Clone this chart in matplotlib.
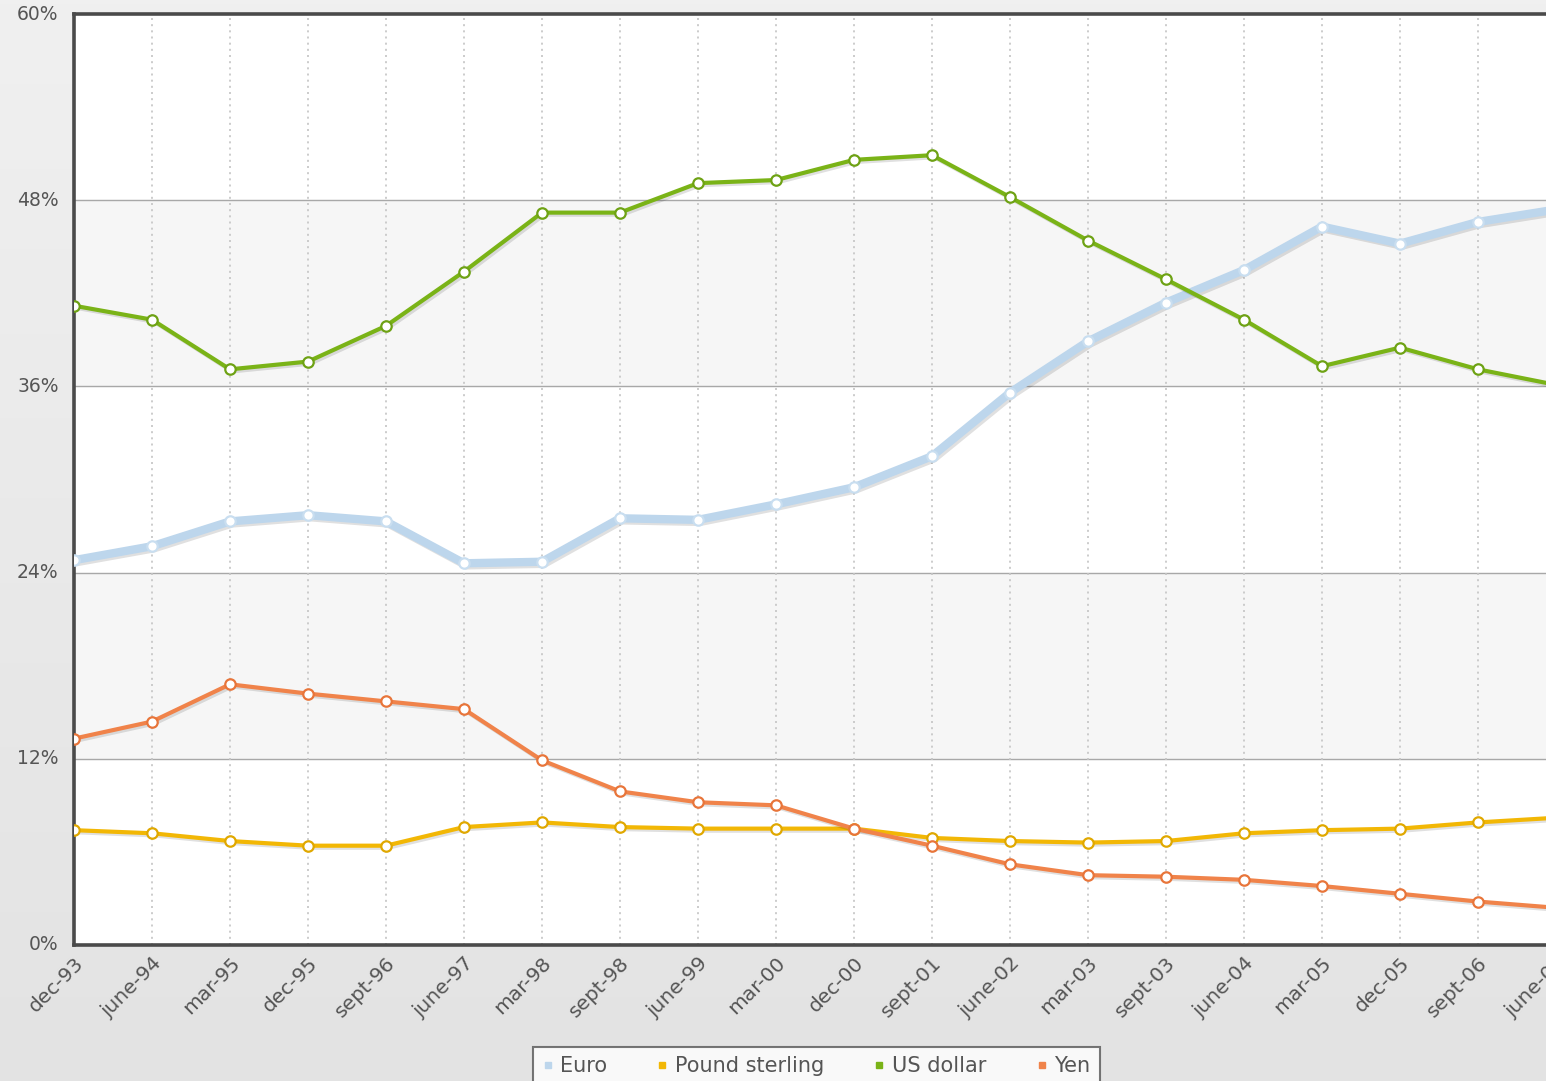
import numpy as np
import matplotlib.pyplot as plt
from matplotlib.lines import Line2D
import matplotlib.patheffects as pe

periods = ['dec-93', 'june-94', 'mar-95', 'dec-95', 'sept-96', 'june-97', 'mar-98',
           'sept-98', 'june-99', 'mar-00', 'dec-00', 'sept-01', 'june-02', 'mar-03',
           'sept-03', 'june-04', 'mar-05', 'dec-05', 'sept-06', 'june-07']

euro = [24.8, 25.7, 27.3, 27.7, 27.3, 24.6, 24.7, 27.5, 27.4, 28.4,
        29.5, 31.5, 35.6, 38.9, 41.4, 43.5, 46.3, 45.2, 46.6, 47.4]
pound = [7.4, 7.2, 6.7, 6.4, 6.4, 7.6, 7.9, 7.6, 7.5, 7.5,
         7.5, 6.9, 6.7, 6.6, 6.7, 7.2, 7.4, 7.5, 7.9, 8.2]
dollar = [41.2, 40.3, 37.1, 37.6, 39.9, 43.4, 47.2, 47.2, 49.1, 49.3,
          50.6, 50.9, 48.2, 45.4, 42.9, 40.3, 37.3, 38.5, 37.1, 36.1]
yen = [13.3, 14.4, 16.8, 16.2, 15.7, 15.2, 11.9, 9.9, 9.2, 9.0,
       7.5, 6.4, 5.2, 4.5, 4.4, 4.2, 3.8, 3.3, 2.8, 2.4]

series = [
    ('Euro', euro, '#bdd6ec', '#c9def0', 6),
    ('Pound sterling', pound, '#f2b705', '#e0a800', 3),
    ('US dollar', dollar, '#7ab317', '#6ea214', 3),
    ('Yen', yen, '#f0834a', '#e8753a', 3),
]

W, H = 1546, 1081
fig = plt.figure(figsize=(W / 100, H / 100), dpi=100)
fig.patch.set_facecolor('#e6e6e6')

# soft background gradient behind everything
bg = fig.add_axes([0, 0, 1, 1], zorder=-10)
grad = np.linspace(0, 1, 256).reshape(-1, 1)
bg.imshow(grad, cmap=plt.matplotlib.colors.LinearSegmentedColormap.from_list(
    'bg', ['#f0f0f0', '#e3e3e3']), aspect='auto', extent=[0, 1, 0, 1])
bg.axis('off')

left, right, top, bottom = 74, 1556, 14, 945
ax = fig.add_axes([left / W, 1 - bottom / H, (right - left) / W, (bottom - top) / H])
ax.set_facecolor('white')

x = np.arange(len(periods))
ax.set_xlim(0, len(periods) - 1)
ax.set_ylim(0, 60)

# alternating horizontal bands
for lo in (12, 36):
    ax.axhspan(lo, lo + 12, color='#f6f6f6', zorder=0)
for yv in (12, 24, 36, 48):
    ax.axhline(yv, color='#a8a8a8', lw=1.0, zorder=1)
for xv in x[1:]:
    ax.axvline(xv, color='#c4c4c4', lw=1.2, ls=(0, (1.2, 2.5)), zorder=1)

for name, vals, col, mcol, lw in series:
    ax.plot(x, vals, color=col, lw=lw, zorder=3, solid_capstyle='round',
            path_effects=[pe.SimpleLineShadow(offset=(1.5, -1.5), alpha=0.12),
                          pe.Normal()])
    ax.plot(x, vals, ls='none', marker='o', ms=7.5, mfc='white',
            mec=mcol, mew=1.6, zorder=4)

for side in ('left', 'top', 'bottom'):
    ax.spines[side].set_color('#4a4a4a')
    ax.spines[side].set_linewidth(2.6)
ax.spines['right'].set_visible(False)

ax.set_yticks([0, 12, 24, 36, 48, 60])
ax.set_yticklabels(['0%', '12%', '24%', '36%', '48%', '60%'])
ax.set_xticks(x)
ax.set_xticklabels(periods, rotation=45, ha='right', rotation_mode='anchor')
ax.tick_params(axis='both', length=0, colors='#555555')
ax.tick_params(axis='y', pad=11, labelsize=13.5)
ax.tick_params(axis='x', pad=6, labelsize=14.5)
for lbl in ax.get_yticklabels():
    lbl.set_verticalalignment('center')

handles = [Line2D([], [], ls='none', marker='s', ms=5, mfc=col, mec=col)
           for _, _, col, _, _ in series]
leg = fig.legend(handles, [s[0] for s in series], loc='upper center',
                 bbox_to_anchor=(0.528, 1 - 1047 / H), ncol=4, fontsize=15,
                 frameon=True, fancybox=False, handlelength=0.5, handletextpad=0.35,
                 columnspacing=2.4, borderpad=0.45, borderaxespad=0,
                 labelcolor='#555555')
leg.get_frame().set_edgecolor('#555555')
leg.get_frame().set_linewidth(1.5)

fig.savefig('out.png', dpi=100, facecolor=fig.get_facecolor())
